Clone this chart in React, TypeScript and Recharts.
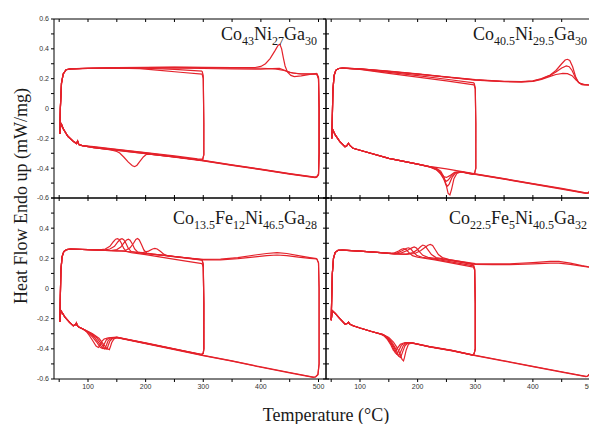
import { LineChart, Line, XAxis, YAxis } from "recharts";

type Pt = [number, number];

// ---------- Co43Ni27Ga30 (top left) ----------
const p1Start: Pt[] = [[51, -0.17], [52, 0.0], [54, 0.17], [57, 0.232], [62, 0.26], [70, 0.266]];
const p1Tail: Pt[] = [[90, -0.249], [84, -0.241], [82, -0.218], [80, -0.235], [75, -0.222], [65, -0.186], [57, -0.136], [54, -0.106], [52, -0.13], [51, -0.17]];

const p1Heat300a: Pt[] = [[100, 0.268], [150, 0.27], [190, 0.267], [220, 0.257], [260, 0.243], [298, 0.23]];
const p1Heat300b: Pt[] = [[100, 0.27], [150, 0.272], [200, 0.27], [250, 0.262], [298, 0.25]];
const p1Heat500a: Pt[] = [[100, 0.271], [150, 0.274], [200, 0.276], [250, 0.277], [300, 0.276], [350, 0.274], [390, 0.275], [400, 0.282], [408, 0.3], [416, 0.335], [424, 0.385], [430, 0.425], [433, 0.43], [436, 0.4], [439, 0.34], [442, 0.285], [446, 0.245], [452, 0.222], [458, 0.214], [470, 0.219], [485, 0.228], [497, 0.236]];
const p1Heat500b: Pt[] = [[100, 0.268], [150, 0.27], [200, 0.271], [250, 0.27], [300, 0.268], [350, 0.265], [400, 0.263], [420, 0.267], [432, 0.269], [440, 0.258], [450, 0.242], [465, 0.233], [480, 0.23], [497, 0.23]];
const p1Heat500c: Pt[] = [[100, 0.27], [150, 0.273], [200, 0.275], [250, 0.276], [300, 0.275], [350, 0.273], [400, 0.27], [425, 0.265], [440, 0.255], [455, 0.238], [470, 0.232], [497, 0.232]];

const p1Cool300a: Pt[] = [[298, 0.23], [300, 0.2], [301, -0.1], [301, -0.31], [299, -0.34], [290, -0.338], [250, -0.318], [200, -0.295], [150, -0.273], [110, -0.255]];
const p1Cool300b: Pt[] = [[298, 0.25], [300, 0.22], [301, -0.1], [301, -0.31], [299, -0.345], [290, -0.343], [250, -0.325], [200, -0.302], [150, -0.28], [110, -0.262]];
const p1Cool500a: Pt[] = [[497, 0.236], [500, 0.21], [501, 0.0], [501, -0.3], [500, -0.44], [497, -0.456], [494, -0.46], [450, -0.436], [400, -0.407], [350, -0.378], [300, -0.348], [250, -0.324], [210, -0.308], [202, -0.306], [196, -0.325], [190, -0.355], [185, -0.38], [181, -0.39], [177, -0.384], [170, -0.36], [162, -0.325], [155, -0.298], [150, -0.288], [140, -0.278], [110, -0.262]];
const p1Cool500b: Pt[] = [[497, 0.23], [500, 0.2], [501, 0.0], [501, -0.3], [500, -0.445], [497, -0.46], [494, -0.463], [450, -0.44], [400, -0.41], [350, -0.381], [300, -0.351], [250, -0.326], [200, -0.303], [150, -0.281], [110, -0.262]];
const p1Cool500c: Pt[] = [[497, 0.232], [500, 0.2], [501, 0.0], [501, -0.3], [500, -0.442], [497, -0.458], [494, -0.461], [450, -0.438], [400, -0.408], [350, -0.379], [300, -0.349], [250, -0.322], [200, -0.298], [150, -0.276], [110, -0.258]];

// ---------- Co40.5Ni29.5Ga30 (top right) ----------
const p2Start: Pt[] = [[51, -0.2], [52, -0.05], [53, 0.12], [55, 0.22], [58, 0.256], [63, 0.268], [70, 0.27]];
const p2Tail: Pt[] = [[200, -0.373], [150, -0.334], [100, -0.28], [88, -0.267], [82, -0.246], [80, -0.233], [77, -0.25], [74, -0.256], [65, -0.222], [57, -0.177], [53, -0.144], [52, -0.17], [51, -0.2]];

const p2Heat300a: Pt[] = [[100, 0.262], [150, 0.235], [200, 0.21], [250, 0.185], [298, 0.158]];
const p2Heat300b: Pt[] = [[100, 0.264], [150, 0.242], [200, 0.22], [250, 0.196], [298, 0.172]];
const p2Heat500a: Pt[] = [[100, 0.266], [150, 0.25], [200, 0.232], [250, 0.212], [300, 0.193], [350, 0.182], [380, 0.18], [400, 0.186], [415, 0.2], [430, 0.225], [440, 0.255], [450, 0.3], [456, 0.325], [460, 0.33], [464, 0.322], [469, 0.28], [474, 0.215], [479, 0.175], [485, 0.16], [495, 0.158], [499, 0.157]];
const p2Heat500b: Pt[] = [[100, 0.265], [150, 0.249], [200, 0.231], [250, 0.211], [300, 0.192], [350, 0.181], [380, 0.179], [400, 0.184], [415, 0.198], [430, 0.222], [440, 0.245], [450, 0.272], [458, 0.285], [463, 0.28], [468, 0.255], [474, 0.205], [480, 0.172], [487, 0.16], [499, 0.157]];
const p2Heat500c: Pt[] = [[100, 0.265], [150, 0.248], [200, 0.23], [250, 0.21], [300, 0.19], [350, 0.18], [380, 0.178], [400, 0.182], [415, 0.195], [430, 0.215], [440, 0.228], [452, 0.236], [460, 0.234], [468, 0.22], [475, 0.19], [482, 0.168], [490, 0.16], [499, 0.157]];

const p2Cool300a: Pt[] = [[298, 0.158], [300, 0.13], [301, -0.1], [301, -0.4], [299, -0.432], [296, -0.44], [290, -0.436], [275, -0.425], [268, -0.435], [263, -0.47], [259, -0.54], [256, -0.58], [253, -0.57], [250, -0.52], [246, -0.46], [240, -0.42], [232, -0.4], [220, -0.39]];
const p2Cool300b: Pt[] = [[298, 0.172], [300, 0.14], [301, -0.1], [301, -0.4], [299, -0.433], [296, -0.441], [290, -0.437], [275, -0.424], [266, -0.432], [260, -0.46], [255, -0.505], [252, -0.52], [249, -0.51], [245, -0.47], [240, -0.43], [232, -0.405], [220, -0.39]];
const p2Cool500a: Pt[] = [[499, 0.157], [500, 0.12], [501, -0.1], [501, -0.45], [499, -0.555], [496, -0.566], [492, -0.567], [450, -0.538], [400, -0.505], [350, -0.472], [300, -0.44], [275, -0.424], [265, -0.43], [258, -0.455], [253, -0.48], [250, -0.488], [246, -0.475], [240, -0.44], [233, -0.41], [222, -0.392]];
const p2Cool500b: Pt[] = [[499, 0.157], [500, 0.12], [501, -0.1], [501, -0.45], [499, -0.557], [496, -0.568], [492, -0.569], [450, -0.54], [400, -0.507], [350, -0.474], [300, -0.442], [275, -0.423], [264, -0.428], [256, -0.45], [250, -0.462], [246, -0.458], [240, -0.435], [232, -0.41], [222, -0.393]];
const p2Cool500c: Pt[] = [[499, 0.157], [500, 0.12], [501, -0.1], [501, -0.45], [499, -0.553], [496, -0.564], [492, -0.565], [450, -0.536], [400, -0.503], [350, -0.47], [300, -0.438], [250, -0.405], [220, -0.388]];

// ---------- Co13.5Fe12Ni46.5Ga28 (bottom left) ----------
const p3Start: Pt[] = [[51, -0.22], [52, -0.05], [53, 0.12], [55, 0.21], [58, 0.245], [63, 0.258], [70, 0.262]];
const p3Tail: Pt[] = [[92, -0.27], [84, -0.255], [81, -0.245], [80, -0.229], [78, -0.24], [74.5, -0.247], [68, -0.225], [60, -0.19], [53, -0.147], [52, -0.18], [51, -0.22]];

const p3Heat300a: Pt[] = [[100, 0.258], [120, 0.256], [130, 0.262], [138, 0.28], [144, 0.31], [148, 0.327], [151, 0.331], [154, 0.325], [158, 0.3], [162, 0.265], [167, 0.245], [175, 0.238], [200, 0.225], [240, 0.2], [270, 0.182], [298, 0.165]];
const p3Heat300b: Pt[] = [[100, 0.258], [128, 0.255], [138, 0.262], [146, 0.28], [152, 0.31], [156, 0.326], [159, 0.33], [162, 0.324], [166, 0.298], [170, 0.265], [175, 0.245], [185, 0.238], [210, 0.228], [240, 0.216], [270, 0.203], [298, 0.19]];
const p3Heat300c: Pt[] = [[100, 0.257], [150, 0.249], [180, 0.242], [195, 0.238], [205, 0.248], [212, 0.262], [216, 0.266], [220, 0.262], [226, 0.245], [232, 0.226], [240, 0.215], [270, 0.202], [298, 0.188]];
const p3Heat500a: Pt[] = [[100, 0.258], [140, 0.252], [150, 0.258], [157, 0.275], [163, 0.305], [167, 0.322], [170, 0.327], [173, 0.32], [177, 0.295], [181, 0.262], [186, 0.242], [195, 0.235], [220, 0.225], [250, 0.212], [280, 0.2], [300, 0.193], [330, 0.195], [360, 0.205], [390, 0.222], [410, 0.232], [428, 0.238], [445, 0.232], [465, 0.218], [485, 0.205], [497, 0.198]];
const p3Heat500b: Pt[] = [[100, 0.258], [150, 0.249], [165, 0.252], [173, 0.27], [179, 0.3], [183, 0.325], [186, 0.331], [189, 0.322], [193, 0.29], [197, 0.255], [202, 0.235], [212, 0.228], [240, 0.216], [270, 0.204], [300, 0.19], [330, 0.19], [360, 0.198], [390, 0.21], [410, 0.218], [428, 0.222], [445, 0.218], [465, 0.208], [485, 0.2], [497, 0.196]];

const p3Cool300a: Pt[] = [[298, 0.165], [300, 0.14], [301, -0.1], [301, -0.4], [300, -0.428], [297, -0.437], [250, -0.401], [200, -0.362], [150, -0.323], [135, -0.327], [128, -0.335], [124, -0.35], [121, -0.375], [118, -0.391], [114, -0.382], [108, -0.345], [102, -0.31], [97, -0.285]];
const p3Cool300b: Pt[] = [[298, 0.19], [300, 0.16], [301, -0.1], [301, -0.4], [300, -0.43], [297, -0.439], [250, -0.402], [200, -0.363], [150, -0.324], [138, -0.328], [132, -0.34], [128, -0.37], [125, -0.398], [121, -0.39], [115, -0.355], [108, -0.322], [101, -0.295], [95, -0.277]];
const p3Cool300c: Pt[] = [[298, 0.188], [300, 0.16], [301, -0.1], [301, -0.4], [300, -0.429], [297, -0.438], [250, -0.4], [200, -0.361], [150, -0.324], [141, -0.33], [135, -0.345], [132, -0.375], [129, -0.401], [125, -0.395], [119, -0.362], [111, -0.323], [103, -0.297], [95, -0.277]];
const p3Cool500a: Pt[] = [[497, 0.198], [500, 0.17], [501, 0.0], [501, -0.5], [499, -0.57], [495, -0.585], [491, -0.587], [450, -0.557], [400, -0.52], [350, -0.48], [300, -0.443], [250, -0.403], [200, -0.364], [150, -0.325], [143, -0.33], [138, -0.348], [135, -0.378], [133, -0.402], [129, -0.397], [123, -0.366], [115, -0.326], [105, -0.297], [96, -0.278]];
const p3Cool500b: Pt[] = [[497, 0.196], [500, 0.17], [501, 0.0], [501, -0.5], [499, -0.572], [495, -0.587], [491, -0.589], [450, -0.559], [400, -0.522], [350, -0.482], [300, -0.445], [250, -0.405], [200, -0.366], [150, -0.326], [145, -0.335], [141, -0.36], [139, -0.385], [137, -0.405], [133, -0.398], [127, -0.37], [119, -0.33], [108, -0.3], [97, -0.279]];

// ---------- Co22.5Fe5Ni40.5Ga32 (bottom right) ----------
const p4Start: Pt[] = [[50, -0.21], [51, -0.05], [52, 0.1], [54, 0.2], [57, 0.24], [62, 0.253], [70, 0.255], [100, 0.248], [130, 0.24]];
const p4Tail: Pt[] = [[120, -0.285], [100, -0.262], [88, -0.247], [82, -0.235], [80, -0.224], [78, -0.232], [74, -0.236], [65, -0.2], [57, -0.165], [52, -0.147], [51, -0.18], [50, -0.21]];

const p4Heat300a: Pt[] = [[150, 0.234], [160, 0.236], [167, 0.248], [172, 0.26], [176, 0.264], [180, 0.258], [185, 0.238], [191, 0.218], [200, 0.207], [230, 0.19], [260, 0.168], [297, 0.142]];
const p4Heat300b: Pt[] = [[155, 0.232], [165, 0.236], [173, 0.25], [180, 0.265], [184, 0.27], [188, 0.263], [193, 0.24], [199, 0.218], [208, 0.207], [235, 0.192], [265, 0.172], [297, 0.15]];
const p4Heat300c: Pt[] = [[160, 0.23], [172, 0.236], [182, 0.252], [189, 0.268], [194, 0.276], [198, 0.268], [203, 0.244], [209, 0.22], [218, 0.206], [240, 0.195], [265, 0.18], [297, 0.158]];
const p4Heat500a: Pt[] = [[160, 0.23], [180, 0.228], [192, 0.238], [200, 0.258], [205, 0.277], [209, 0.288], [213, 0.282], [218, 0.256], [224, 0.225], [232, 0.205], [245, 0.196], [262, 0.187], [300, 0.165], [330, 0.163], [360, 0.164], [400, 0.172], [430, 0.18], [445, 0.18], [465, 0.168], [485, 0.152], [499, 0.143]];
const p4Heat500b: Pt[] = [[160, 0.23], [180, 0.226], [195, 0.232], [205, 0.25], [212, 0.27], [218, 0.287], [222, 0.292], [226, 0.285], [231, 0.255], [236, 0.225], [243, 0.205], [255, 0.192], [270, 0.182], [300, 0.16], [330, 0.158], [360, 0.158], [400, 0.163], [430, 0.168], [445, 0.168], [465, 0.16], [485, 0.148], [499, 0.14]];

const p4Cool300a: Pt[] = [[297, 0.142], [299, 0.12], [300, -0.1], [300, -0.4], [298, -0.432], [295, -0.44], [260, -0.41], [220, -0.384], [190, -0.36], [178, -0.358], [170, -0.37], [164, -0.4], [161, -0.42], [158, -0.41], [153, -0.37], [147, -0.335], [142, -0.315], [136, -0.303]];
const p4Cool300b: Pt[] = [[297, 0.15], [299, 0.125], [300, -0.1], [300, -0.4], [298, -0.433], [295, -0.441], [260, -0.411], [220, -0.385], [190, -0.36], [180, -0.36], [172, -0.375], [167, -0.415], [164, -0.436], [161, -0.425], [156, -0.38], [150, -0.345], [144, -0.318], [138, -0.304]];
const p4Cool300c: Pt[] = [[297, 0.158], [299, 0.13], [300, -0.1], [300, -0.4], [298, -0.434], [295, -0.442], [260, -0.412], [220, -0.386], [190, -0.36], [181, -0.362], [175, -0.38], [170, -0.425], [167, -0.447], [164, -0.435], [159, -0.39], [153, -0.352], [146, -0.322], [140, -0.306]];
const p4Cool500a: Pt[] = [[499, 0.143], [500, 0.12], [501, -0.1], [501, -0.5], [499, -0.565], [495, -0.58], [492, -0.582], [450, -0.552], [400, -0.516], [350, -0.479], [300, -0.443], [260, -0.412], [220, -0.386], [190, -0.362], [183, -0.362], [178, -0.38], [174, -0.42], [171, -0.452], [170, -0.458], [167, -0.445], [162, -0.4], [156, -0.36], [148, -0.325], [140, -0.306]];
const p4Cool500b: Pt[] = [[499, 0.14], [500, 0.12], [501, -0.1], [501, -0.5], [499, -0.567], [495, -0.582], [492, -0.584], [450, -0.554], [400, -0.518], [350, -0.481], [300, -0.445], [260, -0.414], [220, -0.388], [200, -0.368], [190, -0.361], [184, -0.37], [180, -0.41], [177, -0.46], [175.5, -0.48], [173, -0.47], [169, -0.43], [164, -0.39], [158, -0.355], [150, -0.325], [140, -0.305]];

// ---------- axes ----------
const xTicks = [50, 100, 150, 200, 250, 300, 350, 400, 450, 500];
const xTickLabels = ["", "100", "", "200", "", "300", "", "400", "", "500"];
const yTicks = [-0.6, -0.5, -0.4, -0.3, -0.2, -0.1, 0, 0.1, 0.2, 0.3, 0.4, 0.5, 0.6];
const yTickLabels = ["-0.6", "", "-0.4", "", "-0.2", "", "0", "", "0.2", "", "0.4", "", "0.6"];
// lower panel: its top label sits under the "-0.6" of the panel above
const yTickLabelsLower = ["-0.6", "", "-0.4", "", "-0.2", "", "0", "", "0.2", "", "0.4", "", ""];
const xDomain: [number, number] = [41, 513];
const yDomain: [number, number] = [-0.6, 0.6];

const RED = "#e4222b";
const CW = 620;
const CH = 424;

const fmtX = (v: number) => xTickLabels[xTicks.indexOf(v)] ?? "";
const blank = () => "";
const tickStyle = { fontSize: 7, fill: "#333", fontFamily: "Liberation Sans, Arial, sans-serif" };

const toRows = (pts: Pt[]) => pts.map(([x, y]) => ({ x, y }));

type PanelProps = {
  series: Pt[][];
  x0: number;
  y0: number;
  x1: number;
  y1: number;
  showX: boolean;
  yLabels: string[] | null;
  rightAxis: boolean;
  topColor: string;
};

function Panel({ series, x0, y0, x1, y1, showX, yLabels, rightAxis, topColor }: PanelProps) {
  const yW = yLabels ? 54 : 10;
  // mirrored axes take no room in the layout
  const bottomH = showX ? 20 : 0;
  const margin = {
    left: x0 - yW,
    right: CW - x1 - (rightAxis ? 10 : 0),
    top: y0,
    bottom: CH - y1 - bottomH,
  };
  const fmtY = (v: number) => (yLabels ? yLabels[yTicks.indexOf(v)] ?? "" : "");
  return (
    <div style={{ position: "absolute", left: 0, top: 0 }}>
      <LineChart width={CW} height={CH} margin={margin}>
        <XAxis
          xAxisId="b"
          type="number"
          dataKey="x"
          domain={xDomain}
          allowDataOverflow
          ticks={xTicks}
          interval={0}
          tickFormatter={showX ? fmtX : blank}
          height={showX ? 20 : 5}
          tickSize={3}
          tickMargin={2}
          mirror={!showX}
          stroke="#000"
          tick={tickStyle}
        />
        <XAxis
          xAxisId="t"
          orientation="top"
          type="number"
          dataKey="x"
          domain={xDomain}
          allowDataOverflow
          ticks={xTicks}
          interval={0}
          tickFormatter={blank}
          height={5}
          tickSize={3}
          mirror
          stroke="#000"
          axisLine={{ stroke: topColor, strokeWidth: topColor === "#000" ? 1 : 2 }}
        />
        <YAxis
          yAxisId="l"
          type="number"
          domain={yDomain}
          allowDataOverflow
          ticks={yTicks}
          interval={0}
          tickFormatter={fmtY}
          width={yW}
          tickSize={3}
          tickMargin={2}
          stroke="#000"
          tick={tickStyle}
        />
        {rightAxis && (
          <YAxis
            yAxisId="r"
            orientation="right"
            type="number"
            domain={yDomain}
            allowDataOverflow
            ticks={yTicks}
            interval={0}
            tickFormatter={blank}
            width={10}
            tickSize={3}
            stroke="#000"
          />
        )}
        {series.map((pts, i) => (
          <Line
            key={i}
            data={toRows(pts)}
            dataKey="y"
            xAxisId="b"
            yAxisId="l"
            type="linear"
            stroke={RED}
            strokeWidth={1.2}
            dot={false}
            activeDot={false}
            isAnimationActive={false}
          />
        ))}
        <Line
          data={toRows(series[0])}
          dataKey="y"
          xAxisId="t"
          yAxisId={rightAxis ? "r" : "l"}
          stroke="none"
          dot={false}
          activeDot={false}
          isAnimationActive={false}
        />
      </LineChart>
    </div>
  );
}

const panel1: Pt[][] = [
  [...p1Start, ...p1Heat300a],
  [...p1Start, ...p1Heat300b],
  [...p1Start, ...p1Heat500a],
  [...p1Start, ...p1Heat500b],
  [...p1Start, ...p1Heat500c],
  [...p1Cool300a, ...p1Tail],
  [...p1Cool300b, ...p1Tail],
  [...p1Cool500a, ...p1Tail],
  [...p1Cool500b, ...p1Tail],
  [...p1Cool500c, ...p1Tail],
];
const panel2: Pt[][] = [
  [...p2Start, ...p2Heat300a],
  [...p2Start, ...p2Heat300b],
  [...p2Start, ...p2Heat500a],
  [...p2Start, ...p2Heat500b],
  [...p2Start, ...p2Heat500c],
  [...p2Cool300a, ...p2Tail],
  [...p2Cool300b, ...p2Tail],
  [...p2Cool500a, ...p2Tail],
  [...p2Cool500b, ...p2Tail],
  [...p2Cool500c, ...p2Tail],
];
const panel3: Pt[][] = [
  [...p3Start, ...p3Heat300a],
  [...p3Start, ...p3Heat300b],
  [...p3Start, ...p3Heat300c],
  [...p3Start, ...p3Heat500a],
  [...p3Start, ...p3Heat500b],
  [...p3Cool300a, ...p3Tail],
  [...p3Cool300b, ...p3Tail],
  [...p3Cool300c, ...p3Tail],
  [...p3Cool500a, ...p3Tail],
  [...p3Cool500b, ...p3Tail],
];
const panel4: Pt[][] = [
  [...p4Start, ...p4Heat300a],
  [...p4Start, ...p4Heat300b],
  [...p4Start, ...p4Heat300c],
  [...p4Start, ...p4Heat500a],
  [...p4Start, ...p4Heat500b],
  [...p4Cool300a, ...p4Tail],
  [...p4Cool300b, ...p4Tail],
  [...p4Cool300c, ...p4Tail],
  [...p4Cool500a, ...p4Tail],
  [...p4Cool500b, ...p4Tail],
];

const serif = "Liberation Serif, Times New Roman, serif";

function Formula({ x, y, parts }: { x: number; y: number; parts: [string, string][] }) {
  return (
    <text x={x} y={y} fontFamily={serif} fontSize={18} fill="#1a1a1a">
      {parts.map(([el, n], i) => (
        <tspan key={i}>
          <tspan dy={i === 0 ? 0 : -4.5}>{el}</tspan>
          <tspan fontSize={12} dy={4.5}>{n}</tspan>
        </tspan>
      ))}
    </text>
  );
}

export default function App() {
  return (
    <div style={{ position: "absolute", left: 0, top: 0, width: 589, height: 424, overflow: "hidden", background: "#fff" }}>
      <Panel series={panel1} x0={54} y0={19} x1={326} y1={198} showX={false} yLabels={yTickLabels} rightAxis topColor="#000" />
      <Panel series={panel2} x0={326} y0={19} x1={598} y1={198} showX={false} yLabels={null} rightAxis={false} topColor="#8a8a8a" />
      <Panel series={panel3} x0={54} y0={198} x1={326} y1={379} showX yLabels={yTickLabelsLower} rightAxis topColor="#000" />
      <Panel series={panel4} x0={326} y0={198} x1={598} y1={379} showX yLabels={null} rightAxis={false} topColor="#000" />
      <svg width={589} height={424} style={{ position: "absolute", left: 0, top: 0, pointerEvents: "none" }}>
        <Formula x={221} y={40} parts={[["Co", "43"], ["Ni", "27"], ["Ga", "30"]]} />
        <Formula x={473} y={40} parts={[["Co", "40.5"], ["Ni", "29.5"], ["Ga", "30"]]} />
        <Formula x={173} y={224} parts={[["Co", "13.5"], ["Fe", "12"], ["Ni", "46.5"], ["Ga", "28"]]} />
        <Formula x={449} y={224} parts={[["Co", "22.5"], ["Fe", "5"], ["Ni", "40.5"], ["Ga", "32"]]} />
        <text x={27} y={196} transform="rotate(-90 27 196)" textAnchor="middle" fontFamily={serif} fontSize={18} fill="#1a1a1a">
          Heat Flow Endo up (mW/mg)
        </text>
        <text x={326} y={421} textAnchor="middle" fontFamily={serif} fontSize={18} fill="#1a1a1a">
          Temperature (°C)
        </text>
      </svg>
    </div>
  );
}
